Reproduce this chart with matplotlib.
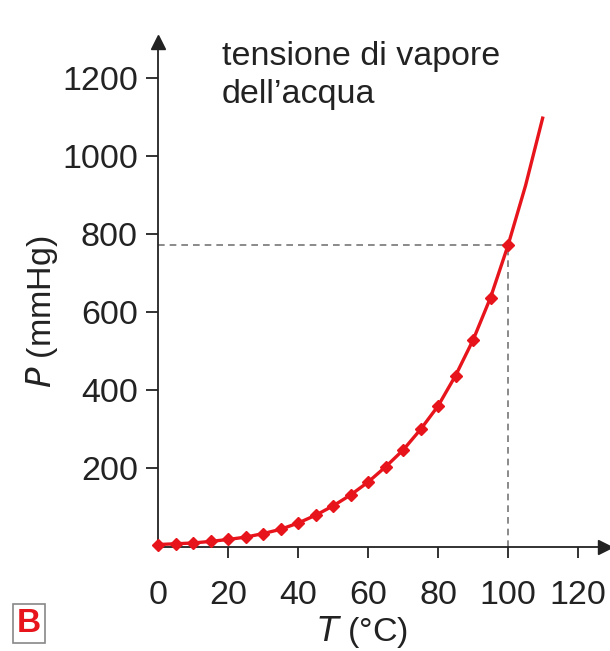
import matplotlib.pyplot as plt

plt.rcParams['font.family'] = ['Liberation Sans', 'DejaVu Sans']

# water vapour pressure
temps = [0, 5, 10, 15, 20, 25, 30, 35, 40, 45, 50,
         55, 60, 65, 70, 75, 80, 85, 90, 95, 100]
pressures = [5, 7, 9, 13, 18, 24, 33, 44, 60, 80, 104,
             132, 165, 204, 247, 300, 360, 438, 529, 638, 772]
# curve continues past 100 °C without markers
ext_temps = [100, 105, 110]
ext_pressures = [772, 925, 1102]

x_ticks = [0, 20, 40, 60, 80, 100, 120]
y_ticks = [200, 400, 600, 800, 1000, 1200]

RED = "#e8141c"
W, H = 610, 651

fig = plt.figure(figsize=(W / 100, H / 100), dpi=100)
ax = fig.add_axes([158 / W, 104.5 / H, (605 - 158) / W, (546.5 - 42) / H])
ax.set_xlim(0, 127.7)
ax.set_ylim(0, 1293)

for s in ["top", "right"]:
    ax.spines[s].set_visible(False)
for s in ["left", "bottom"]:
    ax.spines[s].set_linewidth(1.3)
    ax.spines[s].set_color("#222222")

# arrow heads
ax.plot(1, 0, ">", color="#222222", ms=10, transform=ax.transAxes, clip_on=False)
ax.plot(0, 1, "^", color="#222222", ms=10, transform=ax.transAxes, clip_on=False)

ax.set_xticks(x_ticks)
ax.set_yticks(y_ticks)
ax.tick_params(axis="both", labelsize=24.5, colors="#222222", width=1.3)
ax.tick_params(axis="x", direction="out", length=8, pad=16)
ax.tick_params(axis="y", direction="out", length=8.5, pad=6)
ax.xaxis.get_major_ticks()[0].tick1line.set_visible(False)

# dashed guide at 100 °C
ax.plot([0, 100], [pressures[-1], pressures[-1]], ls=(0, (4, 3)), color="#777777", lw=1.2, zorder=1)
ax.plot([100, 100], [0, pressures[-1]], ls=(0, (4, 3)), color="#777777", lw=1.2, zorder=1)

ax.plot(ext_temps, ext_pressures, color=RED, lw=2.4, solid_capstyle="butt", zorder=3)
ax.plot(temps, pressures, color=RED, lw=2.4, marker="D", ms=6.5, zorder=4, clip_on=False)

fig.text(222 / W, 1 - 41 / H, "tensione di vapore\ndell\u2019acqua", fontsize=24.5,
         va="top", ha="left", linespacing=1.3, color="#222222")

fig.text(42 / W, 1 - 312 / H, "$\\it{P}$ (mmHg)", fontsize=24.5, rotation=90,
         ha="center", va="center", color="#222222")
fig.text(362 / W, 1 - 632 / H, "$\\it{T}$ (°C)", fontsize=24.5,
         ha="center", va="center", color="#222222")

fig.text(29 / W, 1 - 623 / H, "B", fontsize=24, fontweight="bold", color=RED,
         ha="center", va="center",
         bbox=dict(boxstyle="square,pad=0.12", fc="white", ec="#888888", lw=1.2))

fig.savefig("out.png", dpi=100)
